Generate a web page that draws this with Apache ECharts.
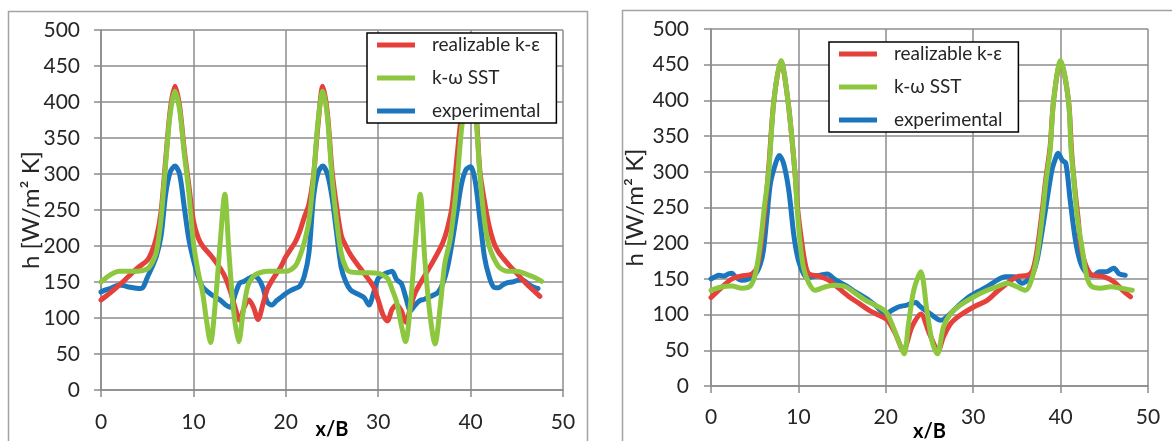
<!DOCTYPE html>
<html>
<head>
<meta charset="utf-8">
<script src="https://cdn.jsdelivr.net/npm/echarts@6/dist/echarts.min.js"></script>
<style>
  html, body { margin: 0; padding: 0; background: #fff; }
  #chart { width: 1172px; height: 441px; }
</style>
</head>
<body>
<div id="chart"></div>
<script>
// Heat transfer coefficient h along the surface, two configurations side by side.
// Each series is a list of [x/B, h] points.

const seriesNames = ['realizable k-ε', 'k-ω SST', 'experimental'];
const xTicks = { min: 0, max: 50, step: 10 };
const yTicks = { min: 0, max: 500, step: 50 };

// ---- left panel ----
const leftRealizable = [
  [0,125],[1,135],[2,146],[3,158],[4,170],[5,180],[5.5,192],[6,212],[6.5,248],[7,320],
  [7.5,390],[8,422],[8.5,395],[9,335],[9.5,285],[10,235],[10.5,212],[11,200],[12,185],[13,167],
  [13.5,155],[14,137],[14.5,115],[15,97],[15.5,115],[16,125],[16.5,115],[17,98],[17.5,118],[18,140],
  [18.5,152],[19,162],[19.5,172],[20,185],[21,205],[21.5,220],[22,240],[22.5,258],[23,298],[23.5,370],
  [24,422],[24.5,385],[25,305],[25.5,255],[26,215],[26.5,200],[27,188],[28,170],[29,153],[29.5,143],
  [30,125],[30.5,105],[31,96],[31.5,112],[32,118],[32.5,110],[33,94],[33.5,115],[34,135],[35,158],
  [36,180],[37,205],[37.5,225],[38,255],[38.5,320],[39,380],[39.5,410],[40,422],[40.5,400],[41,305],
  [41.5,262],[42,228],[42.5,205],[43,192],[44,176],[45,162],[46,148],[47,136],[47.5,130]
];
const leftSST = [
  [0,150],[1,160],[2,165],[3,165],[4,165],[5,168],[5.5,176],[6,192],[6.5,238],[7,315],
  [7.5,385],[8,415],[8.5,390],[9,330],[9.5,275],[10,205],[10.5,165],[11,135],[11.4,98],[11.85,66],
  [12.4,125],[12.9,205],[13.4,272],[13.85,190],[14.35,110],[14.9,67],[15.4,110],[15.9,145],[16.5,158],[17,162],
  [18,165],[19,165],[20,165],[21,172],[21.5,185],[22,205],[22.5,235],[23,295],[23.5,375],[24,415],
  [24.5,380],[25,295],[25.5,235],[26,190],[26.5,170],[27,164],[28,163],[29,163],[30,162],[31,155],
  [31.5,140],[32,122],[32.5,90],[32.95,67],[33.5,120],[34,200],[34.55,272],[35.05,180],[35.6,105],[36.15,64],
  [36.7,115],[37.2,175],[37.8,210],[38.5,285],[39,360],[39.5,405],[40,415],[40.5,390],[41,300],[41.5,235],
  [42,200],[43,172],[44,165],[45,165],[46,161],[47,156],[47.7,151]
];
const leftExperimental = [
  [0,136],[0.5,139],[1,141],[1.5,144],[2,146],[2.5,145],[3,143],[3.5,142],[4,141],[4.5,142],
  [5,156],[5.5,170],[6,186],[6.5,214],[7,272],[7.5,303],[8,311],[8.5,300],[9,255],[9.5,210],
  [10,181],[10.5,158],[11,143],[11.5,137],[12,132],[12.5,128],[13,124],[13.5,118],[14,115],[14.5,132],
  [15,148],[15.5,151],[16,155],[16.5,158],[17,155],[17.5,143],[18,122],[18.5,118],[19,124],[19.5,129],
  [20,134],[20.5,138],[21,141],[21.5,144],[22,158],[22.5,190],[23,268],[23.5,302],[24,311],[24.5,300],
  [25,268],[25.5,218],[26,170],[26.5,150],[27,139],[27.5,135],[28,132],[28.5,128],[29,118],[29.5,135],
  [30,155],[30.5,160],[31,163],[31.5,165],[32,153],[32.5,148],[33,128],[33.5,110],[34,118],[34.5,124],
  [35,126],[35.5,129],[36,132],[36.5,136],[37,148],[37.5,170],[38,205],[38.5,245],[39,285],[39.5,306],
  [40,310],[40.5,290],[41,238],[41.5,185],[42,158],[42.5,143],[43,142],[43.5,146],[44,149],[44.5,150],
  [45,152],[45.5,153],[46,150],[46.5,145],[47,142],[47.3,141]
];

// ---- right panel ----
const rightRealizable = [
  [0,124],[1.3,139],[2.4,150],[3.5,154],[4.7,157],[5.3,167],[5.75,200],[6.2,250],[6.6,305],[7.2,400],
  [8,455],[8.8,400],[9.6,300],[9.9,250],[10.4,200],[10.8,170],[11.2,157],[12.3,154],[13.5,148],[14.6,137],
  [15.8,125],[16.9,116],[18.1,106],[19.2,99],[20.2,92],[21.1,73],[22,50],[23,83],[24,101],[25,73],
  [26,50],[26.6,69],[27.4,87],[28.5,99],[30.1,111],[31.6,120],[32.7,132],[33.9,144],[35,153],[36.2,155],
  [36.8,162],[37.3,190],[37.9,246],[38.3,290],[38.8,335],[39.2,400],[40,455],[40.9,400],[41.25,330],[41.6,280],
  [42,235],[42.4,190],[43.4,157],[45,153],[46.1,146],[47.1,134],[48,125]
];
const rightSST = [
  [0,134],[1.3,139],[2.4,140],[3.5,137],[4.5,140],[5.1,158],[5.65,200],[6.1,250],[6.6,300],[7.2,400],
  [8,456],[8.8,400],[9.6,300],[9.85,250],[10.2,200],[10.6,165],[11.2,144],[11.9,134],[13.1,139],[14.2,141],
  [15.4,139],[16.5,130],[17.7,120],[18.8,113],[20,104],[20.7,87],[21.5,62],[22.1,45],[22.6,87],[23.2,134],
  [24,160],[24.7,106],[25.3,62],[25.9,45],[26.6,83],[27.4,101],[28.5,113],[30.1,125],[31.6,134],[32.7,139],
  [33.9,144],[35,139],[36,134],[36.6,146],[37.3,181],[37.9,237],[38.3,284],[38.8,330],[39.2,400],[40,456],
  [40.9,400],[41.2,330],[41.55,284],[41.9,237],[42.5,190],[43,153],[43.5,140],[44.6,137],[45.7,139],[46.9,137],
  [48.2,134]
];
const rightExperimental = [
  [0,150],[0.5,153],[0.9,155],[1.5,154],[2,157],[2.4,158],[2.8,153],[3.5,148],[4.3,150],[5.1,157],
  [5.65,171],[6,190],[6.4,237],[6.8,284],[7.4,312],[7.8,323],[8.3,312],[8.9,274],[9.5,209],[10,176],
  [10.6,157],[11.1,152],[11.6,153],[12.5,155],[13.3,157],[14.2,149],[15.4,141],[16.5,132],[17.7,123],[18.8,113],
  [20,101],[20.7,106],[21.5,111],[22.3,113],[23,116],[23.5,117],[23.8,113],[24.5,106],[25.1,101],[26.3,92],
  [27,97],[28.2,111],[29.3,123],[30.5,132],[31.6,139],[32.7,148],[33.7,153],[34.7,153],[35.3,146],[35.6,144],
  [36.2,148],[36.8,157],[37.3,176],[37.9,218],[38.5,265],[39,302],[39.4,318],[39.7,326],[40.2,316],[40.6,312],
  [41.1,260],[41.7,204],[42.3,172],[43.05,157],[43.8,155],[44.4,160],[45.2,160],[46.1,165],[46.7,157],[47.4,155]
];

const FONT = 'Lato, "Open Sans", sans-serif';
const GRID_COLOR = '#8c8c8c';
const TEXT_COLOR = '#262626';
const COLORS = { red: '#e4403c', green: '#8dc63f', blue: '#1c76bd' };

function xAxisFor(gridIndex, nameGap, labelMargin) {
  return {
    type: 'value', gridIndex,
    min: xTicks.min, max: xTicks.max, interval: xTicks.step,
    name: 'x/B', nameLocation: 'middle', nameGap, nameMoveOverlap: false,
    nameTextStyle: { fontFamily: FONT, fontSize: 20, fontWeight: 'bold', color: '#000' },
    axisLine: { show: true, onZero: false, lineStyle: { color: GRID_COLOR, width: 1.5 } },
    axisTick: { show: true, inside: false, length: 7, lineStyle: { color: GRID_COLOR, width: 1.5 } },
    axisLabel: { fontFamily: FONT, fontSize: 21, color: TEXT_COLOR, margin: labelMargin },
    splitLine: { show: true, lineStyle: { color: GRID_COLOR, width: 1.5 } }
  };
}

function yAxisFor(gridIndex, nameGap, labelMargin) {
  return {
    type: 'value', gridIndex,
    min: yTicks.min, max: yTicks.max, interval: yTicks.step,
    name: 'h [W/m² K]', nameLocation: 'middle', nameGap, nameMoveOverlap: false,
    nameTextStyle: { fontFamily: FONT, fontSize: 24, color: TEXT_COLOR },
    axisLine: { show: true, onZero: false, lineStyle: { color: GRID_COLOR, width: 1.5 } },
    axisTick: { show: true, inside: false, length: 7, lineStyle: { color: GRID_COLOR, width: 1.5 } },
    axisLabel: { fontFamily: FONT, fontSize: 21, color: TEXT_COLOR, margin: labelMargin },
    splitLine: { show: true, lineStyle: { color: GRID_COLOR, width: 1.5 } }
  };
}

function lineSeries(name, data, color, axisIndex, z) {
  return {
    type: 'line', name, data,
    xAxisIndex: axisIndex, yAxisIndex: axisIndex,
    smooth: 0.3, showSymbol: false, symbol: 'none', z,
    lineStyle: { color, width: 5, cap: 'round', join: 'round' },
    itemStyle: { color },
    emphasis: { disabled: true },
    animation: false
  };
}

function legendAt(left, top) {
  return {
    orient: 'vertical', left, top, z: 20,
    data: seriesNames, selectedMode: false,
    icon: 'rect', itemWidth: 38, itemHeight: 5, itemGap: 13,
    padding: [2, 16, 2, 10],
    backgroundColor: '#fff', borderColor: '#000', borderWidth: 1.5, borderRadius: 0,
    textStyle: { fontFamily: FONT, fontSize: 19, color: TEXT_COLOR, lineHeight: 20, padding: [0, 0, 0, 12] }
  };
}

const chart = echarts.init(document.getElementById('chart'), null, { renderer: 'canvas' });
chart.setOption({
  backgroundColor: '#fff',
  animation: false,
  graphic: [
    { type: 'rect', silent: true, z: -10,
      shape: { x: 8.5, y: 11.5, width: 579, height: 470 },
      style: { fill: 'none', stroke: '#a3a3a3', lineWidth: 1.5 } },
    { type: 'rect', silent: true, z: -10,
      shape: { x: 622.5, y: 10.5, width: 600, height: 470 },
      style: { fill: 'none', stroke: '#a3a3a3', lineWidth: 1.5 } }
  ],
  grid: [
    { left: 101, top: 30, width: 462, height: 360, outerBoundsMode: 'none', containLabel: false },
    { left: 711, top: 29, width: 437, height: 357, outerBoundsMode: 'none', containLabel: false }
  ],
  xAxis: [xAxisFor(0, 30, 22), xAxisFor(1, 36, 21)],
  yAxis: [yAxisFor(0, 58, 21), yAxisFor(1, 64, 22)],
  legend: [legendAt(367, 33), legendAt(829, 42)],
  series: [
    lineSeries('experimental', leftExperimental, COLORS.blue, 0, 2),
    lineSeries('realizable k-ε', leftRealizable, COLORS.red, 0, 3),
    lineSeries('k-ω SST', leftSST, COLORS.green, 0, 4),
    lineSeries('experimental', rightExperimental, COLORS.blue, 1, 2),
    lineSeries('realizable k-ε', rightRealizable, COLORS.red, 1, 3),
    lineSeries('k-ω SST', rightSST, COLORS.green, 1, 4)
  ]
});
</script>
</body>
</html>
